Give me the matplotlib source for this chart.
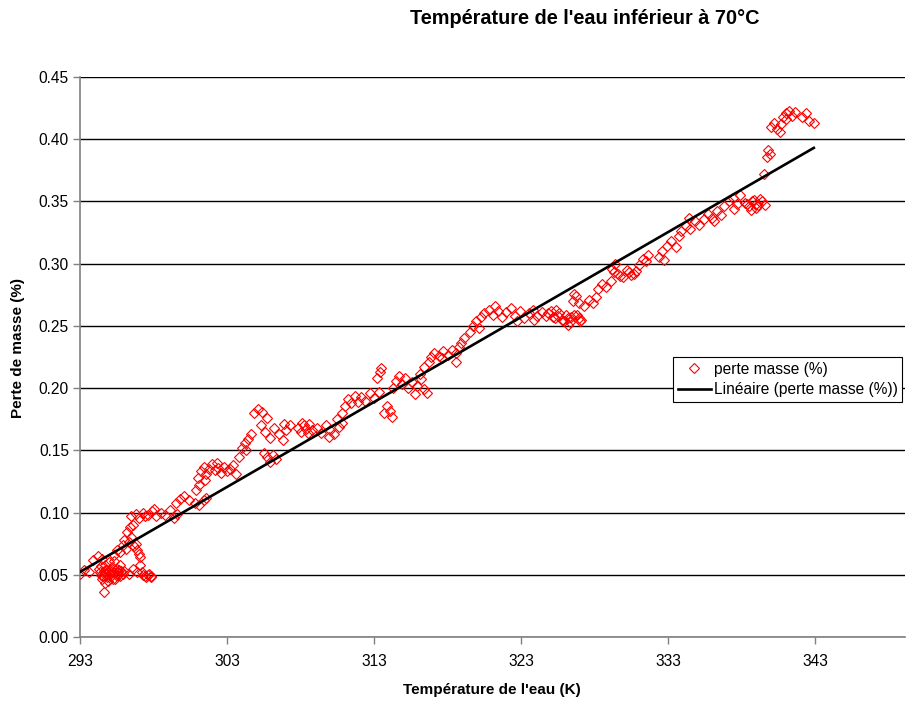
import numpy as np
import matplotlib
matplotlib.use("Agg")
import matplotlib.pyplot as plt

plt.rcParams['font.family'] = ['Liberation Sans', 'DejaVu Sans']

# Température de l'eau (K)
temperature = [
    293.0, 293.3, 293.6, 293.9, 294.2, 294.5,
    294.3, 294.4, 294.5, 294.6, 294.7, 294.8, 294.9, 295.0, 295.1, 295.2,
    295.3, 295.4, 295.5, 295.6, 295.7, 295.8, 294.6, 294.7, 295.0, 295.3,
    294.35, 294.55, 294.75, 294.85, 295.05, 295.15, 295.25, 295.45, 295.55,
    295.65, 295.75, 295.9, 294.45, 294.95,
    295.3, 295.5, 295.7, 295.9, 296.0, 296.1, 296.2, 296.3, 296.4, 296.5,
    296.6, 296.7, 296.8, 296.9, 297.0, 297.1,
    296.0, 296.3, 296.6, 296.9, 297.1, 297.3, 297.5, 297.7, 297.8,
    297.2, 297.4, 297.6, 297.85,
    296.5, 296.8, 297.0, 297.3, 297.6, 297.9, 298.2, 298.5, 298.8, 299.1,
    299.4, 299.6, 298.0, 297.4,
    299.5, 299.8, 300.1, 300.4,
    300.8, 301.1, 301.4, 301.6, 300.9, 301.1,
    301.0, 301.2, 301.4, 301.6, 301.8, 302.0, 302.2, 302.4, 302.6, 302.8,
    303.0, 303.2, 303.4, 303.6, 302.3, 301.5,
    303.8, 304.0, 304.2, 304.4, 304.6, 304.3,
    304.8, 305.1, 305.4, 305.7,
    305.5, 305.7, 305.9, 306.1, 306.3,
    305.3, 305.6, 305.9, 306.2, 306.5, 306.8, 307.0,
    306.9, 307.3,
    307.8, 308.0, 308.2, 308.4, 308.6, 308.8, 308.1, 308.5,
    309.1, 309.4, 309.7, 310.0, 310.3, 310.6, 310.8, 309.9, 310.5,
    310.8, 311.0, 311.2, 311.4, 311.7, 311.9,
    312.1, 312.4, 312.7, 313.0, 313.3,
    313.2, 313.4, 313.5,
    313.7, 313.9, 314.1, 314.2,
    314.3, 314.5, 314.7, 314.9, 315.1,
    315.3, 315.6, 315.9, 316.2, 316.4, 316.6, 316.1, 315.8,
    316.4, 316.7, 316.9,
    317.1, 317.4, 317.7, 318.0, 318.3, 318.6, 318.8, 317.6, 318.6,
    318.9, 319.1,
    319.5, 319.7, 319.9, 320.1, 320.3,
    320.5, 320.8, 321.1, 321.4, 321.7, 322.0, 322.3, 322.6, 322.9, 323.2,
    323.5, 323.8, 324.1, 324.4, 321.2, 322.7, 323.9,
    324.7, 325.0, 325.3, 325.6, 325.9, 326.2, 326.4, 326.8, 327.1, 325.4,
    325.15, 325.75, 326.05, 326.3, 326.95,
    324.85, 325.5, 326.15, 326.6, 327.0,
    326.5, 326.7, 326.9, 326.6,
    327.3, 327.6, 327.9, 328.1,
    328.2, 328.5, 328.8, 329.1,
    329.2, 329.4, 329.3,
    329.6, 329.9, 330.2, 330.5, 330.8,
    329.75, 330.35, 330.65,
    331.0, 331.3, 331.6, 331.5,
    332.4, 332.6, 332.9, 333.2, 333.5, 333.7, 332.7,
    333.9, 334.2, 334.5, 334.8, 335.1, 334.4,
    335.4, 335.7, 336.0, 336.3, 336.6, 336.1,
    336.8, 337.1, 337.4, 337.7, 337.9, 337.5,
    338.2, 338.5, 338.8, 339.1, 339.4, 338.6,
    338.35, 338.95, 339.25, 339.55, 338.7, 339.0,
    339.5,
    339.7, 339.8, 339.9,
    340.0, 340.2, 340.4, 340.6, 340.7,
    340.8, 341.0, 341.2, 341.4, 341.6, 341.0,
    342.1, 342.4, 342.6, 342.9,
]

# perte masse (%)
perte_masse = [
    0.051, 0.054, 0.052, 0.062, 0.065, 0.063,
    0.055, 0.050, 0.047, 0.053, 0.058, 0.051, 0.045, 0.054, 0.049, 0.056,
    0.052, 0.047, 0.055, 0.050, 0.058, 0.053, 0.036, 0.043, 0.060, 0.061,
    0.052, 0.049, 0.054, 0.048, 0.051, 0.053, 0.047, 0.050, 0.052,
    0.054, 0.049, 0.051, 0.057, 0.052,
    0.066, 0.070, 0.068, 0.074, 0.078, 0.071, 0.084, 0.076, 0.088, 0.080,
    0.090, 0.073, 0.075, 0.070, 0.067, 0.064,
    0.053, 0.051, 0.055, 0.052, 0.058, 0.050, 0.048, 0.051, 0.049,
    0.052, 0.049, 0.050, 0.048,
    0.097, 0.099, 0.096, 0.100, 0.098, 0.101, 0.097, 0.100, 0.098, 0.102,
    0.096, 0.099, 0.103, 0.097,
    0.108, 0.111, 0.113, 0.110,
    0.108, 0.106, 0.110, 0.112, 0.118, 0.122,
    0.128, 0.133, 0.137, 0.131, 0.135, 0.139, 0.134, 0.136, 0.132, 0.137,
    0.133, 0.135, 0.138, 0.131, 0.140, 0.126,
    0.145, 0.152, 0.156, 0.159, 0.163, 0.150,
    0.180, 0.183, 0.181, 0.176,
    0.148, 0.145, 0.141, 0.146, 0.143,
    0.170, 0.165, 0.160, 0.168, 0.163, 0.158, 0.166,
    0.171, 0.170,
    0.168, 0.165, 0.170, 0.167, 0.171, 0.166, 0.172, 0.164,
    0.168, 0.164, 0.170, 0.166, 0.163, 0.169, 0.172, 0.161, 0.175,
    0.180, 0.186, 0.191, 0.188, 0.194, 0.189,
    0.193, 0.190, 0.196, 0.192, 0.197,
    0.208, 0.213, 0.216,
    0.180, 0.186, 0.182, 0.177,
    0.200, 0.206, 0.210, 0.203, 0.208,
    0.200, 0.205, 0.202, 0.207, 0.199, 0.196, 0.211, 0.195,
    0.217, 0.221, 0.225,
    0.228, 0.226, 0.230, 0.227, 0.231, 0.228, 0.233, 0.224, 0.221,
    0.236, 0.240,
    0.245, 0.250, 0.254, 0.248, 0.257,
    0.260, 0.263, 0.259, 0.262, 0.257, 0.261, 0.264, 0.258, 0.262, 0.256,
    0.260, 0.263, 0.258, 0.261, 0.266, 0.254, 0.255,
    0.258, 0.262, 0.256, 0.260, 0.254, 0.251, 0.257, 0.259, 0.255, 0.263,
    0.257, 0.255, 0.259, 0.253, 0.256,
    0.260, 0.258, 0.256, 0.259, 0.254,
    0.270, 0.274, 0.268, 0.276,
    0.266, 0.271, 0.268, 0.273,
    0.280, 0.284, 0.281, 0.286,
    0.296, 0.300, 0.293,
    0.292, 0.289, 0.295, 0.291, 0.294,
    0.290, 0.293, 0.292,
    0.299, 0.304, 0.307, 0.302,
    0.305, 0.310, 0.314, 0.318, 0.313, 0.322, 0.303,
    0.326, 0.330, 0.328, 0.334, 0.331, 0.337,
    0.336, 0.340, 0.337, 0.342, 0.339, 0.334,
    0.346, 0.350, 0.353, 0.348, 0.355, 0.344,
    0.349, 0.346, 0.351, 0.347, 0.350, 0.343,
    0.348, 0.345, 0.352, 0.347, 0.350, 0.348,
    0.372,
    0.386, 0.391, 0.388,
    0.410, 0.413, 0.408, 0.406, 0.412,
    0.418, 0.421, 0.423, 0.419, 0.422, 0.416,
    0.418, 0.421, 0.415, 0.413,
]

x_ticks = [293, 303, 313, 323, 333, 343]
y_ticks = [0.00, 0.05, 0.10, 0.15, 0.20, 0.25, 0.30, 0.35, 0.40, 0.45]

t = np.array(temperature)
p = np.array(perte_masse)

# Linear trendline (least squares over the measured range)
slope, intercept = np.polyfit(t, p, 1)
t_fit = np.array([t.min(), t.max()])
p_fit = slope * t_fit + intercept

fig = plt.figure(figsize=(9.07, 7.05), dpi=100)
ax = fig.add_axes([80 / 907, 68 / 705, 825 / 907, 560 / 705])

ax.set_xlim(293, 349.1)
ax.set_ylim(0, 0.45)

ax.yaxis.grid(True, color='black', linewidth=1.0)
ax.set_axisbelow(True)

ax.plot(t, p, linestyle='none', marker='D', markersize=5.5,
        markerfacecolor='none', markeredgecolor='#ff0000',
        markeredgewidth=0.8, label='perte masse (%)', zorder=3)
ax.plot(t_fit, p_fit, color='black', linewidth=1.9,
        label='Linéaire (perte masse (%))', zorder=4)

for side in ('top', 'right'):
    ax.spines[side].set_visible(False)
for side in ('left', 'bottom'):
    ax.spines[side].set_color('#808080')
    ax.spines[side].set_linewidth(1.2)

ax.set_xticks(x_ticks)
ax.set_xticklabels([str(v) for v in x_ticks])
ax.set_yticks(y_ticks)
ax.set_yticklabels([f"{v:.2f}" for v in y_ticks])
ax.tick_params(axis='both', direction='out', length=5, width=1,
               color='#808080', labelsize=11.2, labelcolor='black')
ax.tick_params(axis='x', pad=7)
ax.tick_params(axis='y', pad=3)

fig.text(585 / 907, 1 - 18 / 705, "Température de l'eau inférieur à 70°C",
         ha='center', va='center', fontsize=14.3, fontweight='bold')
fig.text(492 / 907, 15 / 705, "Température de l'eau (K)",
         ha='center', va='center', fontsize=11, fontweight='bold')
fig.text(18 / 907, 357 / 705, "Perte de masse (%)",
         ha='center', va='center', rotation=90, fontsize=11, fontweight='bold')

leg = ax.legend(loc='upper left', bbox_to_anchor=(0.719, 0.5),
                borderaxespad=0, frameon=True, fancybox=False,
                edgecolor='black', framealpha=1, fontsize=11.2,
                handlelength=2.1, handletextpad=0.2, borderpad=0.3,
                labelspacing=0.35)
leg.get_frame().set_linewidth(0.8)

fig.savefig('out.png', dpi=100)
